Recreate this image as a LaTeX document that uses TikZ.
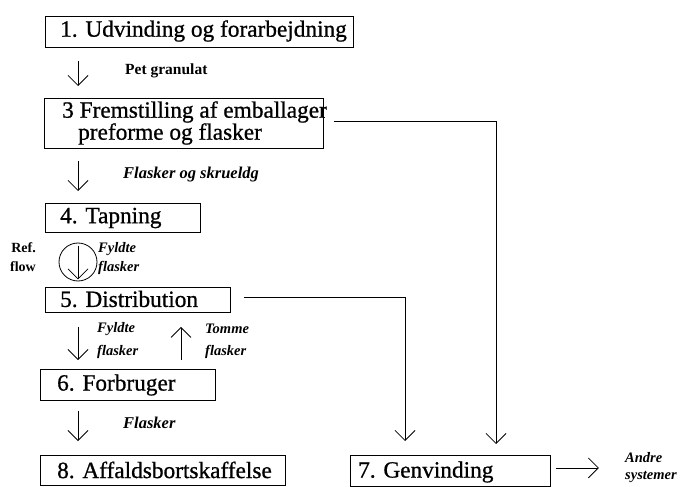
\documentclass[tikz,border=0pt]{standalone}
\usepackage{fontspec}
\setmainfont{Liberation Serif}
\newfontfamily\heavyserif[FakeBold=0.8]{Liberation Serif}
\usetikzlibrary{arrows.meta,calc}
\begin{document}
\begin{tikzpicture}[x=1pt,y=-1pt,
  boxst/.style={draw,line width=0.9pt,inner sep=0pt,anchor=north west},
  big/.style={font=\heavyserif\fontsize{23.3}{24}\selectfont,anchor=west,inner sep=0pt},
  lbl/.style={font=\fontsize{14.5}{15}\selectfont\bfseries\itshape,anchor=west,inner sep=0pt},
  lblb/.style={font=\fontsize{14}{15}\selectfont\bfseries,inner sep=0pt},
  arr/.style={line width=0.8pt,-{Straight Barb[length=10pt,width=20pt,line width=0.8pt]}},
  ln/.style={line width=0.8pt}]
\useasboundingbox (0,0) rectangle (681,487);
% boxes
\node[boxst,minimum width=308,minimum height=31] (b1) at (45,16) {};
\node[boxst,minimum width=279,minimum height=50] (b3) at (44,98) {};
\node[boxst,minimum width=155,minimum height=29] (b4) at (45,203) {};
\node[boxst,minimum width=185,minimum height=25] (b5) at (45,287) {};
\node[boxst,minimum width=175,minimum height=31] (b6) at (40,369) {};
\node[boxst,minimum width=245,minimum height=30] (b8) at (40,455) {};
\node[boxst,minimum width=200,minimum height=31] (b7) at (350,455) {};
% box texts
\node[big] (t1) at (60,31) {1. Udvinding og forarbejdning};
\node[big] (t3a) at (62,112) {3 Fremstilling af emballager};
\node[big] (t3b) at (78,134) {preforme og flasker};
\node[big] (t4) at (60,218) {4. Tapning};
\node[big] (t5) at (60,299) {5. Distribution};
\node[big] (t6) at (57,385) {6. Forbruger};
\node[big] (t8) at (57,470) {8. Affaldsbortskaffelse};
\node[big] (t7) at (358,472) {7. Genvinding};
% labels
\node[lblb,anchor=west,font=\fontsize{15.5}{16}\selectfont\bfseries] (l1) at (125,71) {Pet granulat};
\node[lbl,font=\fontsize{16.5}{17}\selectfont\bfseries\itshape] (l2) at (123,175) {Flasker og skrueldg};
\node[lblb,anchor=east] (l3) at (36,248) {Ref.};
\node[lblb,anchor=east] (l4) at (36,267) {flow};
\node[lbl] (l5) at (98,249) {Fyldte};
\node[lbl] (l6) at (98,268) {flasker};
\node[lbl] (l7) at (97,329) {Fyldte};
\node[lbl] (l8) at (97,352) {flasker};
\node[lbl] (l9) at (205,329) {Tomme};
\node[lbl] (l10) at (205,352) {flasker};
\node[lbl,font=\fontsize{16.5}{17}\selectfont\bfseries\itshape] (l11) at (123,423) {Flasker};
\node[lbl] (l12) at (625,458) {Andre};
\node[lbl] (l13) at (625,477) {systemer};
% reference axis
\coordinate (ax) at (78,0);
\coordinate (ux) at (181,0);
% vertical arrows
\draw[arr] ($(ax |- b1.south)+(0,13)$) -- ($(ax |- b3.north)+(0,-12)$);
\draw[arr] ($(ax |- b3.south)+(0,12)$) -- ($(ax |- b4.north)+(0,-12)$);
\node[draw,circle,line width=0.8pt,minimum size=38,inner sep=0pt] (c) at (78,262) {};
\draw[arr] ($(c.north)+(0,3)$) -- ($(c.south)+(0,-2)$);
\draw[arr] ($(ax |- b5.south)+(0,14)$) -- ($(ax |- b6.north)+(0,-9)$);
\draw[arr] ($(ux |- b6.north)+(0,-9)$) -- ($(ux |- b5.south)+(0,14)$);
\draw[arr] ($(ax |- b6.south)+(0,10)$) -- ($(ax |- b8.north)+(0,-14)$);
% recycling lines
\coordinate (r3) at (496,0);
\coordinate (r5) at (405,0);
\draw[arr] ($(b3.east)+(10,-2)$) -- ($(r3 |- b3.east)+(0,-2)$) -- ($(r3 |- b7.north)+(0,-11)$);
\draw[arr] ($(b5.east)+(13,-3)$) -- ($(r5 |- b5.east)+(0,-3)$) -- ($(r5 |- b7.north)+(0,-14)$);
\draw[arr] ($(b7.east)+(5,-3)$) -- ($(b7.east)+(48,-3)$);
\end{tikzpicture}
\end{document}
